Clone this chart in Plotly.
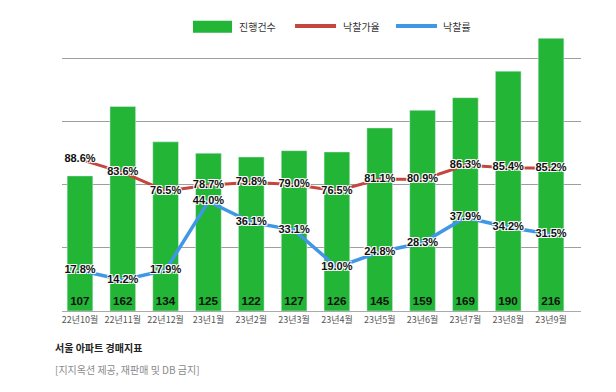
import plotly.graph_objects as go

months = ["22년10월", "22년11월", "22년12월", "23년1월", "23년2월", "23년3월",
          "23년4월", "23년5월", "23년6월", "23년7월", "23년8월", "23년9월"]
counts = [107, 162, 134, 125, 122, 127, 126, 145, 159, 169, 190, 216]
bid_price_rate = [88.6, 83.6, 76.5, 78.7, 79.8, 79.0, 76.5, 81.1, 80.9, 86.3, 85.4, 85.2]
success_rate = [17.8, 14.2, 17.9, 44.0, 36.1, 33.1, 19.0, 24.8, 28.3, 37.9, 34.2, 31.5]

GREEN = "#22b536"
RED = "#c4463f"
BLUE = "#3f97e6"
KFONT = "Noto Sans CJK KR"
NUMFONT = "Liberation Sans, Arial, sans-serif"
halo = "1px 1px 0 #fff, -1px -1px 0 #fff, 1px -1px 0 #fff, -1px 1px 0 #fff"

fig = go.Figure()
fig.add_trace(go.Bar(
    x=months, y=counts, name="진행건수", marker_color=GREEN,
    text=[str(c) for c in counts], textposition="inside", insidetextanchor="start",
    textangle=0,
    textfont=dict(family=NUMFONT, size=12, color="#111", weight="bold"),
    yaxis="y",
))
fig.add_trace(go.Scatter(
    x=months, y=bid_price_rate, name="낙찰가율", mode="lines+text",
    line=dict(color=RED, width=3),
    text=[f"{v:.1f}%" for v in bid_price_rate], textposition="middle center",
    textfont=dict(family=NUMFONT, size=11, color="#111", weight="bold", shadow=halo),
    yaxis="y3", cliponaxis=False,
))
fig.add_trace(go.Scatter(
    x=months, y=success_rate, name="낙찰률", mode="lines+text",
    line=dict(color=BLUE, width=3.5),
    text=[f"{v:.1f}%" for v in success_rate], textposition="middle center",
    textfont=dict(family=NUMFONT, size=11, color="#111", weight="bold", shadow=halo),
    yaxis="y2", cliponaxis=False,
))

# manual legend
ly = 1.0215
shapes = [
    dict(type="rect", xref="paper", yref="paper", x0=0.2524, x1=0.3276, y0=0.9975, y1=1.0405,
         fillcolor=GREEN, line=dict(width=0)),
    dict(type="line", xref="paper", yref="paper", x0=0.449, x1=0.528, y0=ly, y1=ly,
         line=dict(color=RED, width=4)),
    dict(type="line", xref="paper", yref="paper", x0=0.6436, x1=0.7225, y0=ly, y1=ly,
         line=dict(color=BLUE, width=4)),
]
annotations = [
    dict(text="진행건수", x=0.3372, y=ly, xref="paper", yref="paper", xanchor="left", yanchor="middle",
         showarrow=False, font=dict(family=KFONT, size=10, color="#333")),
    dict(text="낙찰가율", x=0.5376, y=ly, xref="paper", yref="paper", xanchor="left", yanchor="middle",
         showarrow=False, font=dict(family=KFONT, size=10, color="#333")),
    dict(text="낙찰률", x=0.730, y=ly, xref="paper", yref="paper", xanchor="left", yanchor="middle",
         showarrow=False, font=dict(family=KFONT, size=10, color="#333")),
    dict(text="<b>서울 아파트 경매지표</b>", x=-0.0173, y=-0.1326, xref="paper", yref="paper",
         xanchor="left", yanchor="middle", showarrow=False,
         font=dict(family=KFONT, size=10, color="#222")),
    dict(text="[지지옥션 제공, 재판매 및 DB 금지]", x=-0.0173, y=-0.2079, xref="paper", yref="paper",
         xanchor="left", yanchor="middle", showarrow=False,
         font=dict(family=KFONT, size=10, color="#8a8a8a")),
]

fig.update_layout(
    width=600, height=376,
    margin=dict(l=54, r=27, t=24, b=73),
    paper_bgcolor="white", plot_bgcolor="white",
    showlegend=False,
    bargap=0.4,
    shapes=shapes, annotations=annotations,
    xaxis=dict(type="category", range=[-0.42, 11.70], showline=True, linecolor="#aaaaaa",
               ticks="", tickfont=dict(family=KFONT, size=9, color="#555"), showgrid=False),
    yaxis=dict(range=[0, 221], dtick=50, showgrid=True, gridcolor="#9e9e9e", gridwidth=1,
               showticklabels=False, zeroline=False, ticks=""),
    yaxis2=dict(range=[2.4, 108.3], overlaying="y", visible=False),
    yaxis3=dict(range=[30.5, 137.4], overlaying="y", visible=False),
)

fig.write_html("out.html")
